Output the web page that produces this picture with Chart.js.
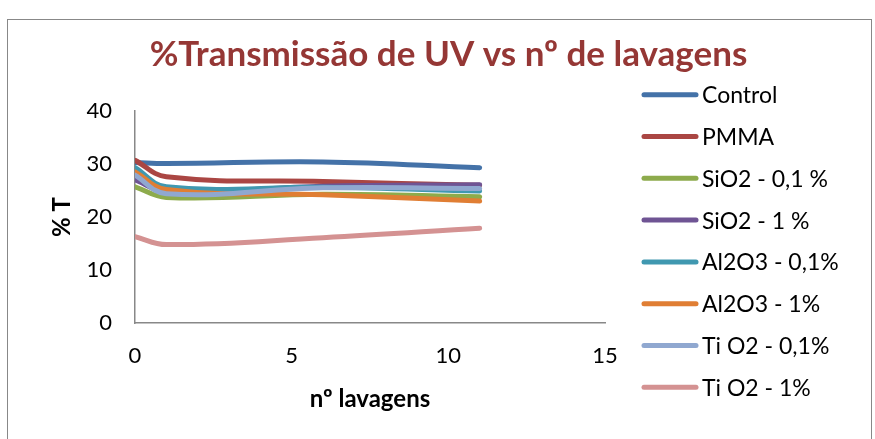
<!DOCTYPE html>
<html>
<head>
<meta charset="utf-8">
<script src="https://cdn.jsdelivr.net/npm/chart.js@4"></script>
<style>
html,body{margin:0;padding:0;background:#fff;}
#wrap{position:relative;width:875px;height:439px;}
#frame{position:absolute;left:7px;top:19px;width:865px;height:440px;border:1.5px solid #888;box-sizing:border-box;}
canvas{position:absolute;left:0;top:0;}
</style>
</head>
<body>
<div id="wrap">
<div id="frame"></div>
<canvas id="c" width="875" height="439"></canvas>
</div>
<script>
const washes = [0, 1, 6, 11];
const seriesNames = ["Control", "PMMA", "SiO2 - 0,1 %", "SiO2 - 1 %", "Al2O3 - 0,1%", "Al2O3 - 1%", "Ti O2 - 0,1%", "Ti O2 - 1%"];
const control   = [30.3, 30.1, 30.4, 29.3];
const pmma      = [30.7, 27.6, 26.7, 26.0];
const sio2_01   = [25.7, 23.7, 24.3, 23.8];
const sio2_1    = [27.0, 24.8, 25.8, 26.1];
const al2o3_01  = [29.3, 25.7, 25.6, 24.9];
const al2o3_1   = [28.5, 25.2, 24.2, 23.0];
const tio2_01   = [27.9, 24.4, 25.5, 25.4];
const tio2_1    = [16.3, 14.8, 16.1, 17.9];
const yTicks = [0, 10, 20, 30, 40];
const xTicks = [0, 5, 10, 15];

const colors = ["#4472A8", "#AA4643", "#8DAB4C", "#6F5494", "#4098B0", "#E07E34", "#90A8D0", "#D49292"];
const allSeries = [control, pmma, sio2_01, sio2_1, al2o3_01, al2o3_1, tio2_01, tio2_1];

const datasets = allSeries.map((vals, i) => ({
  label: seriesNames[i],
  data: washes.map((x, j) => ({x: x, y: vals[j]})),
  borderColor: colors[i],
  backgroundColor: colors[i],
  borderWidth: 5,
  pointRadius: 0,
  tension: 0.4,
  borderCapStyle: 'round',
  fill: false,
  order: allSeries.length - i
}));

const FONT = "Lato, 'Open Sans', sans-serif";

// Legend drawn beside the plot, Excel style (independent of the plot area)
const sideLegend = {
  id: 'sideLegend',
  afterDraw(chart) {
    const ctx = chart.ctx;
    ctx.save();
    ctx.font = "23px " + FONT;
    ctx.textBaseline = 'middle';
    ctx.textAlign = 'left';
    chart.data.datasets.forEach((ds, i) => {
      const y = 94.7 + i * 41.8;
      ctx.strokeStyle = ds.borderColor;
      ctx.lineWidth = 5;
      ctx.lineCap = 'round';
      ctx.beginPath();
      ctx.moveTo(644, y);
      ctx.lineTo(696, y);
      ctx.stroke();
      ctx.fillStyle = '#000';
      ctx.fillText(ds.label, 702, y + 1);
    });
    ctx.restore();
  }
};

new Chart(document.getElementById('c'), {
  type: 'line',
  data: { datasets },
  plugins: [sideLegend],
  options: {
    responsive: false,
    animation: false,
    layout: { padding: { left: 22, right: 0, top: 0, bottom: 0 } },
    plugins: {
      tooltip: { enabled: false },
      legend: { display: false },
      title: {
        display: true,
        text: '%Transmissão de UV vs nº de lavagens',
        color: '#953735',
        font: { family: FONT, size: 35, weight: 'bold' },
        padding: { top: 34, bottom: 35 }
      }
    },
    scales: {
      x: {
        type: 'linear',
        min: 0, max: 15,
        afterBuildTicks: (s) => { s.ticks = xTicks.map(v => ({value: v})); },
        afterFit: (s) => { s.height = 116; },
        ticks: { color: '#000', font: { family: FONT, size: 22 }, padding: 20, maxRotation: 0 },
        grid: { display: false, drawTicks: false },
        border: { display: true, color: '#888', width: 1.5 },
        title: { display: true, text: 'nº lavagens', color: '#000', font: { family: FONT, size: 24, weight: 'bold' }, padding: { top: 10, bottom: 25.6 } }
      },
      y: {
        min: 0, max: 40,
        afterBuildTicks: (s) => { s.ticks = yTicks.map(v => ({value: v})); },
        afterFit: (s) => { s.width = 113; },
        ticks: { color: '#000', font: { family: FONT, size: 22 }, padding: 23 },
        grid: { display: false, drawTicks: false },
        border: { display: true, color: '#888', width: 1.5 },
        title: { display: true, text: '% T', color: '#000', font: { family: FONT, size: 24, weight: 'bold' }, padding: { top: 25.6, bottom: 4 } }
      },
      yRight: {
        axis: 'y',
        position: 'right',
        display: true,
        ticks: { display: false },
        grid: { display: false, drawTicks: false },
        border: { display: false },
        afterFit: (s) => { s.width = 270; }
      }
    }
  }
});
</script>
</body>
</html>
